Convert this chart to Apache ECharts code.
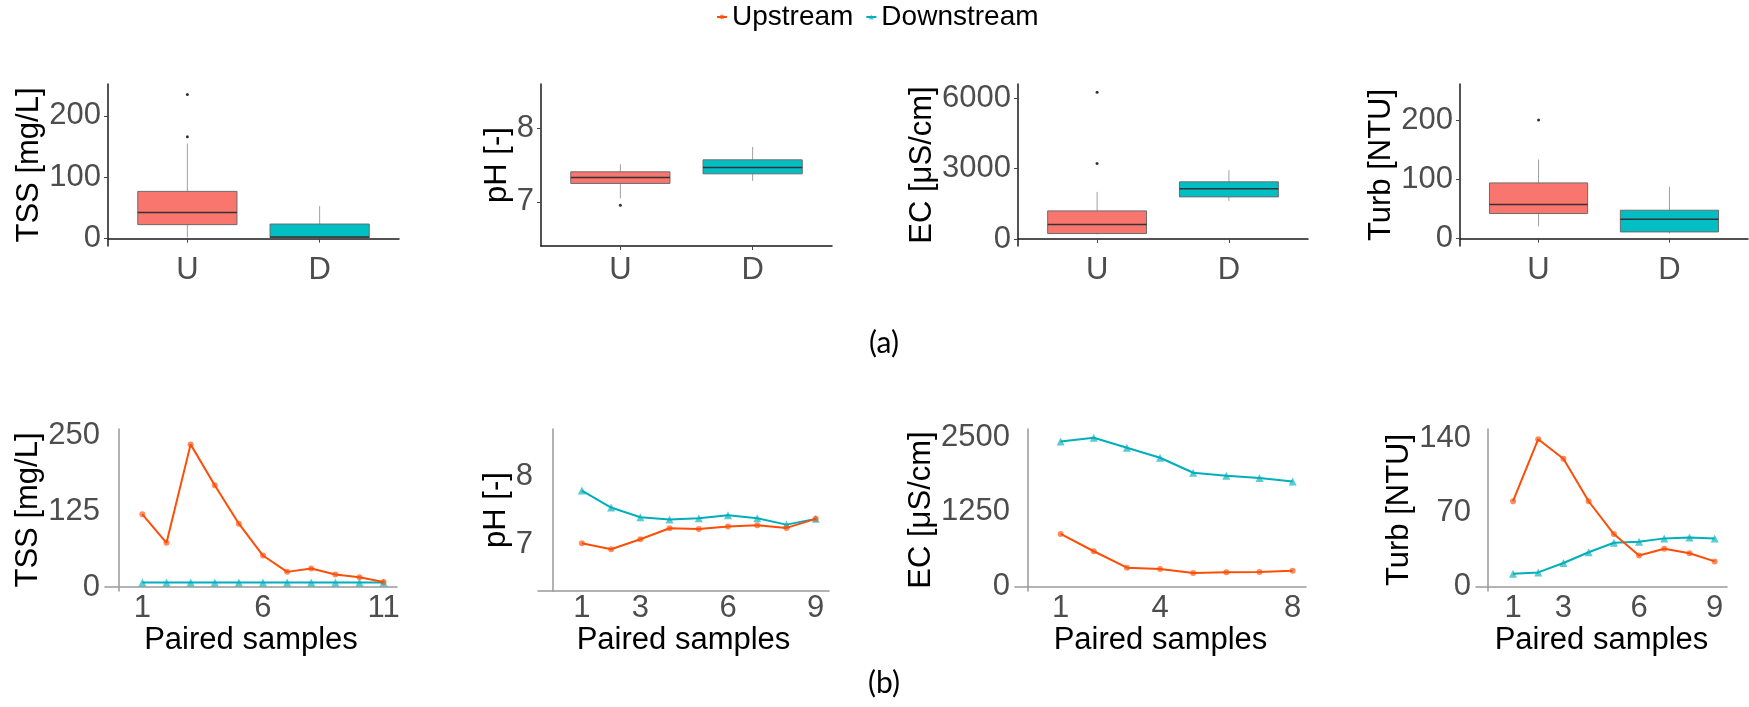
<!DOCTYPE html>
<html><head><meta charset="utf-8">
<script src="https://cdn.jsdelivr.net/npm/echarts@6/dist/echarts.min.js"></script>
<style>html,body{margin:0;padding:0;background:#fff}#c{width:1749px;height:707px}</style>
</head><body><div id="c"></div>
<script>
// ---------- (a) box plot statistics: [min, Q1, median, Q3, max] ----------
const boxCategories = ['U', 'D'];
const tssBoxU = [2, 22.8, 42.4, 77, 155];
const tssBoxD = [1, 1.6, 2.5, 23.8, 53];
const tssOutU = [166, 235];
const phBoxU = [7.046, 7.25, 7.33, 7.407, 7.51];
const phBoxD = [7.285, 7.38, 7.467, 7.57, 7.746];
const phOutU = [6.955];
const ecBoxU = [188, 231, 615, 1197, 2009];
const ecBoxD = [1624, 1795, 2137, 2436, 2936];
const ecOutU = [3222, 6256];
const turbBoxU = [20.8, 42.4, 57.6, 94.2, 133.9];
const turbBoxD = [8.5, 11.3, 32.7, 48, 88];
const turbOutU = [200.5];

// ---------- (b) paired samples ----------
const tssUp   = [120, 73, 235.6, 168, 104.6, 52, 25, 30.5, 20.5, 16, 8.3];
const tssDown = [7.3, 7.3, 7.3, 7.3, 7.3, 7.3, 7.3, 7.3, 7.3, 7.3, 7.3];
const phUp    = [7.025, 6.937, 7.083, 7.244, 7.234, 7.268, 7.288, 7.249, 7.381];
const phDown  = [7.795, 7.546, 7.405, 7.371, 7.39, 7.435, 7.39, 7.297, 7.381];
const ecUp    = [882, 592, 318, 296, 229, 241, 246, 268];
const ecDown  = [2426, 2488, 2321, 2154, 1903, 1852, 1814, 1757];
const turbUp  = [80.5, 139, 120.5, 80.5, 49.6, 29.3, 35.7, 31.5, 23.8];
const turbDown= [12.1, 13.4, 22.3, 32.4, 41.4, 42.3, 45.5, 46.4, 45.5];

// ---------- tick labels ----------
const tssBoxTicks = [0, 100, 200];
const phBoxTicks = [7, 8];
const ecBoxTicks = [0, 3000, 6000];
const turbBoxTicks = [0, 100, 200];
const tssLineTicks = [0, 125, 250];
const phLineTicks = [7, 8];
const ecLineTicks = [0, 1250, 2500];
const turbLineTicks = [0, 70, 140];
const tssXTicks = [1, 6, 11];
const phXTicks = [1, 3, 6, 9];
const ecXTicks = [1, 4, 8];
const turbXTicks = [1, 3, 6, 9];

const FONT = 'Liberation Sans, Arial, sans-serif';
const TICK_FS = 31, TITLE_FS = 31;
const colU = '#F8766D', colD = '#00BFC4';
const lineU = '#FC4E07', lineD = '#00AFBB';
const plain = v => String(v);

const chart = echarts.init(document.getElementById('c'));

const topGrids = [
  {left:108, top:84, width:291, height:162},
  {left:541, top:84, width:291, height:162},
  {left:1018, top:84, width:290, height:162},
  {left:1460, top:84, width:288, height:162}
];
const botGrids = [
  {left:105, top:429, width:292, height:162},
  {left:538, top:429, width:291, height:162},
  {left:1015, top:429, width:291, height:162},
  {left:1476, top:429, width:251, height:162}
];

const topY = [
  {name:'TSS [mg/L]', min:-12, max:252, ticks:tssBoxTicks, gap:58},
  {name:'pH [-]', min:6.4, max:8.6, ticks:phBoxTicks, gap:24},
  {name:'EC [μS/cm]', min:-300, max:6610, ticks:ecBoxTicks, gap:76},
  {name:'Turb [NTU]', min:-12.5, max:261.5, ticks:turbBoxTicks, gap:58}
];
const botY = [
  {name:'TSS [mg/L]', min:-6.6, max:261, ticks:tssLineTicks, gap:51},
  {name:'pH [-]', min:6.327, max:8.694, ticks:phLineTicks, gap:16},
  {name:'EC [μS/cm]', min:-72, max:2634, ticks:ecLineTicks, gap:65},
  {name:'Turb [NTU]', min:-4.1, max:148.6, ticks:turbLineTicks, gap:49}
];
const botX = [
  {min:-0.55, max:11.556, ticks:tssXTicks},
  {min:-0.502, max:9.455, ticks:phXTicks},
  {min:-0.377, max:8.404, ticks:ecXTicks},
  {min:-0.468, max:9.488, ticks:turbXTicks}
];

const boxes = [
  [tssBoxU, tssBoxD, tssOutU],
  [phBoxU, phBoxD, phOutU],
  [ecBoxU, ecBoxD, ecOutU],
  [turbBoxU, turbBoxD, turbOutU]
];
const lines = [
  [tssUp, tssDown], [phUp, phDown], [ecUp, ecDown], [turbUp, turbDown]
];

const grid = [], xAxis = [], yAxis = [], series = [];

function boxRender(params, api) {
  const x = api.value(0);
  const lo = api.coord([x, api.value(1)]);
  const q1 = api.coord([x, api.value(2)]);
  const md = api.coord([x, api.value(3)]);
  const q3 = api.coord([x, api.value(4)]);
  const hi = api.coord([x, api.value(5)]);
  const w = api.size([0.75, 0])[0];
  const fill = api.visual('color');
  return {type:'group', children:[
    {type:'line', shape:{x1:hi[0], y1:hi[1], x2:q3[0], y2:q3[1]}, style:{stroke:'#a0a0a0', lineWidth:1}},
    {type:'line', shape:{x1:q1[0], y1:q1[1], x2:lo[0], y2:lo[1]}, style:{stroke:'#a0a0a0', lineWidth:1}},
    {type:'rect', shape:{x:q1[0]-w/2, y:q3[1], width:w, height:q1[1]-q3[1]}, style:{fill:fill, stroke:'#6b6b6b', lineWidth:1}},
    {type:'line', shape:{x1:md[0]-w/2, y1:md[1], x2:md[0]+w/2, y2:md[1]}, style:{stroke:'#333', lineWidth:1.5}}
  ]};
}

// top row
for (let i = 0; i < 4; i++) {
  grid.push(topGrids[i]);
  const gi = grid.length - 1;
  xAxis.push({
    gridIndex: gi, type:'value', min:0.4, max:2.6,
    axisLine:{show:true, lineStyle:{color:'#1a1a1a', width:1.5}},
    axisTick:{show:true, customValues:[1,2], length:4, lineStyle:{color:'#444'}},
    splitLine:{show:false},
    axisLabel:{customValues:[1,2], formatter:v => boxCategories[Math.round(v)-1], fontSize:TICK_FS, color:'#4d4d4d', fontFamily:FONT, margin:9}
  });
  yAxis.push({
    gridIndex: gi, type:'value', min:topY[i].min, max:topY[i].max,
    name: topY[i].name, nameLocation:'middle', nameGap: topY[i].gap, nameRotate:90,
    nameTextStyle:{fontSize:TITLE_FS, color:'#000', fontFamily:FONT},
    axisLine:{show:true, lineStyle:{color:'#1a1a1a', width:1.5}},
    axisTick:{show:true, customValues:topY[i].ticks, length:4, lineStyle:{color:'#444'}},
    splitLine:{show:false},
    axisLabel:{customValues:topY[i].ticks, formatter:plain, fontSize:TICK_FS, color:'#4d4d4d', fontFamily:FONT, margin:7}
  });
  const b = boxes[i];
  series.push({
    type:'custom', xAxisIndex:gi, yAxisIndex:gi, renderItem:boxRender,
    encode:{x:0, y:[1,2,3,4,5]},
    data:[
      {value:[1].concat(b[0]), itemStyle:{color:colU}},
      {value:[2].concat(b[1]), itemStyle:{color:colD}}
    ], silent:true
  });
  series.push({
    type:'scatter', xAxisIndex:gi, yAxisIndex:gi, symbolSize:3,
    itemStyle:{color:'#000'}, data:b[2].map(v => [1, v]), silent:true
  });
}

// bottom row
for (let i = 0; i < 4; i++) {
  grid.push(botGrids[i]);
  const gi = grid.length - 1;
  xAxis.push({
    gridIndex: gi, type:'value', min:botX[i].min, max:botX[i].max,
    name:'Paired samples', nameLocation:'middle', nameGap:29,
    nameTextStyle:{fontSize:TITLE_FS, color:'#000', fontFamily:FONT},
    axisLine:{show:true, lineStyle:{color:'#999', width:1.5}},
    axisTick:{show:false},
    splitLine:{show:false},
    axisLabel:{customValues:botX[i].ticks, formatter:plain, fontSize:TICK_FS, color:'#4d4d4d', fontFamily:FONT, margin:2}
  });
  yAxis.push({
    gridIndex: gi, type:'value', min:botY[i].min, max:botY[i].max,
    name: botY[i].name, nameLocation:'middle', nameGap: botY[i].gap, nameRotate:90,
    nameTextStyle:{fontSize:TITLE_FS, color:'#000', fontFamily:FONT},
    axisLine:{show:true, lineStyle:{color:'#999', width:1.5}},
    axisTick:{show:false},
    splitLine:{show:false},
    axisLabel:{customValues:botY[i].ticks, formatter:plain, fontSize:TICK_FS, color:'#4d4d4d', fontFamily:FONT, margin:5}
  });
  const [up, down] = lines[i];
  series.push({
    name:'Upstream', type:'line', xAxisIndex:gi, yAxisIndex:gi,
    data: up.map((v, k) => [k + 1, v]),
    symbol:'circle', symbolSize:6,
    lineStyle:{color:lineU, width:2},
    itemStyle:{color:lineU, opacity:0.65},
    z:3, silent:true
  });
  series.push({
    name:'Downstream', type:'line', xAxisIndex:gi, yAxisIndex:gi,
    data: down.map((v, k) => [k + 1, v]),
    symbol:'triangle', symbolSize:8,
    lineStyle:{color:lineD, width:2},
    itemStyle:{color:lineD, opacity:0.65},
    z:2, silent:true
  });
}

chart.setOption({
  animation:false,
  backgroundColor:'#fff',
  legend:{
    data:['Upstream','Downstream'], left:716, top:3, padding:0,
    itemWidth:10, itemHeight:6, itemGap:12,
    textStyle:{fontSize:28, color:'#000', fontFamily:FONT}
  },
  grid, xAxis, yAxis, series,
  graphic:[
    {type:'text', x:884, y:343, style:{text:'(a)', fill:'#000', font:'30px Lato, sans-serif', textAlign:'center', textVerticalAlign:'middle'}},
    {type:'text', x:884, y:683, style:{text:'(b)', fill:'#000', font:'30px Lato, sans-serif', textAlign:'center', textVerticalAlign:'middle'}}
  ]
});
</script>
</body></html>
